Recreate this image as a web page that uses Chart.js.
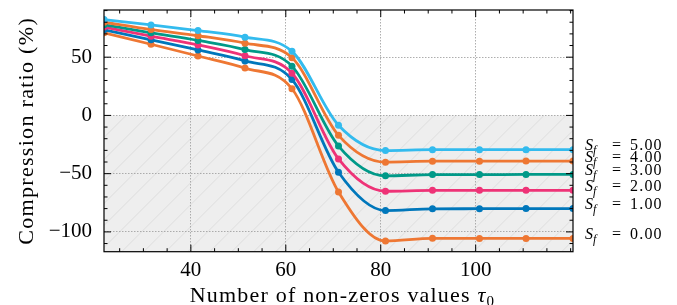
<!DOCTYPE html>
<html>
<head>
<meta charset="utf-8">
<script src="https://cdn.jsdelivr.net/npm/chart.js@4.4.1/dist/chart.umd.min.js"></script>
<style>
    html, body { margin: 0; padding: 0; background: #fff; }
    #wrap { width: 677px; height: 305px; position: relative; }
</style>
</head>
<body>
<div id="wrap"><canvas id="chart"></canvas></div>
<script>
// x positions (number of non-zeros tau0)
const tau0 = [21.7, 31.6, 41.5, 51.4, 61.3, 71.1, 81.0, 90.9, 100.8, 110.6, 120.5];

// compression ratio (%) for each S_f
const sf0 = [70.9, 61.1, 51.0, 40.6, 22.9, -65.7, -107.8, -105.5, -105.6, -105.6, -105.6];
const sf1 = [73.5, 64.9, 56.2, 46.8, 30.8, -48.8, -81.7, -80.2, -80.1, -80.0, -80.0];
const sf2 = [75.9, 68.0, 60.5, 51.2, 36.3, -37.4, -65.1, -64.3, -64.3, -64.3, -64.3];
const sf3 = [77.8, 70.9, 64.4, 56.5, 42.3, -26.3, -51.9, -50.8, -50.8, -50.7, -50.7];
const sf4 = [80.0, 73.7, 68.4, 62.0, 49.5, -17.1, -40.1, -39.3, -39.3, -39.2, -39.2];
const sf5 = [82.3, 77.7, 72.8, 67.2, 55.0, -8.5, -30.2, -29.4, -29.4, -29.4, -29.4];

const sfSeries = [sf0, sf1, sf2, sf3, sf4, sf5];
const sfLabels = ["0.00", "1.00", "2.00", "3.00", "4.00", "5.00"];
const sfColors = ["#EE7733", "#0077BB", "#EE3377", "#009988", "#EE7733", "#33BBEE"];

const xTicks = [40, 60, 80, 100];
const yTicks = [-100, -50, 0, 50];
const xMinor = [25, 30, 35, 45, 50, 55, 65, 70, 75, 85, 90, 95, 105, 110, 115, 120];
const yMinor = [-110, -90, -80, -70, -60, -40, -30, -20, -10, 10, 20, 30, 40, 60, 70, 80, 90];

const FONT = '"Liberation Serif", "Times New Roman", serif';
Chart.defaults.font.family = FONT;
Chart.defaults.color = "#000";

// gray hatched region below zero
const shadePlugin = {
    id: "shade",
    beforeDraw(chart) {
        const { ctx, chartArea: a, scales: { y } } = chart;
        ctx.save();
        ctx.fillStyle = "#fff";
        ctx.fillRect(0, 0, chart.width, chart.height);
        const y0 = y.getPixelForValue(0);
        ctx.fillStyle = "#eeeeee";
        ctx.fillRect(a.left, y0, a.right - a.left, a.bottom - y0);
        ctx.beginPath();
        ctx.rect(a.left, y0, a.right - a.left, a.bottom - y0);
        ctx.clip();
        ctx.strokeStyle = "#d9d9d9";
        ctx.lineWidth = 0.8;
        const h = a.bottom - y0;
        for (let x = a.left - h; x < a.right; x += 22) {
            ctx.beginPath();
            ctx.moveTo(x, a.bottom);
            ctx.lineTo(x + h, y0);
            ctx.stroke();
        }
        ctx.restore();
    }
};

// frame, inward ticks, titles and S_f labels
const framePlugin = {
    id: "frame",
    afterDraw(chart) {
        const { ctx, chartArea: a, scales: { x, y } } = chart;
        ctx.save();
        ctx.strokeStyle = "#000";
        ctx.lineWidth = 1;
        const tick = (x1, y1, x2, y2) => {
            ctx.beginPath();
            ctx.moveTo(x1, y1);
            ctx.lineTo(x2, y2);
            ctx.stroke();
        };
        xTicks.forEach(v => {
            const px = x.getPixelForValue(v);
            tick(px, a.bottom, px, a.bottom - 7);
            tick(px, a.top, px, a.top + 7);
        });
        xMinor.forEach(v => {
            const px = x.getPixelForValue(v);
            tick(px, a.bottom, px, a.bottom - 3.5);
            tick(px, a.top, px, a.top + 3.5);
        });
        yTicks.forEach(v => {
            const py = y.getPixelForValue(v);
            tick(a.left, py, a.left + 7, py);
            tick(a.right, py, a.right - 7, py);
        });
        yMinor.forEach(v => {
            const py = y.getPixelForValue(v);
            tick(a.left, py, a.left + 3.5, py);
            tick(a.right, py, a.right - 3.5, py);
        });
        ctx.lineWidth = 1.2;
        ctx.strokeRect(a.left, a.top, a.right - a.left, a.bottom - a.top);

        ctx.fillStyle = "#000";

        // x title with tau_0
        ctx.textBaseline = "alphabetic";
        ctx.textAlign = "left";
        ctx.letterSpacing = "1.2px";
        ctx.font = "22px " + FONT;
        const main = "Number of non-zeros values ";
        const w1 = ctx.measureText(main).width;
        ctx.font = "italic 22px " + FONT;
        const w2 = ctx.measureText("\u03C4").width;
        ctx.font = "15px " + FONT;
        const w3 = ctx.measureText("0").width;
        let sx = (a.left + a.right) / 2 + 4 - (w1 + w2 + w3) / 2;
        const by = 302;
        ctx.font = "22px " + FONT;
        ctx.fillText(main, sx, by);
        ctx.font = "italic 22px " + FONT;
        ctx.fillText("\u03C4", sx + w1, by);
        ctx.font = "15px " + FONT;
        ctx.fillText("0", sx + w1 + w2, by + 4);

        // y title
        ctx.save();
        ctx.translate(33, (a.top + a.bottom) / 2);
        ctx.rotate(-Math.PI / 2);
        ctx.textAlign = "center";
        ctx.font = "22px " + FONT;
        ctx.letterSpacing = "1.3px";
        ctx.fillText("Compression ratio (%)", 0, 0);
        ctx.restore();

        // S_f labels at right
        ctx.textAlign = "left";
        ctx.textBaseline = "middle";
        sfSeries.forEach((s, i) => {
            const py = y.getPixelForValue(s[s.length - 1]) - 3.7;
            ctx.letterSpacing = "0px";
            ctx.font = "italic 16px " + FONT;
            ctx.fillText("S", 585, py);
            ctx.font = "italic 12px " + FONT;
            ctx.fillText("f", 593, py + 5);
            ctx.font = "16px " + FONT;
            ctx.fillText("=", 612, py);
            ctx.letterSpacing = "1.2px";
            ctx.fillText(sfLabels[i], 630, py);
        });
        ctx.letterSpacing = "0px";
        ctx.restore();
    }
};

const datasets = sfSeries.map((s, i) => ({
    label: "S_f = " + sfLabels[i],
    data: s.map((v, k) => ({ x: tau0[k], y: v })),
    borderColor: sfColors[i],
    backgroundColor: sfColors[i],
    borderWidth: 2.8,
    cubicInterpolationMode: "monotone",
    pointRadius: 3.5,
    pointBorderWidth: 0,
    pointBackgroundColor: sfColors[i],
    clip: 0,
    order: 6 - i
}));

new Chart(document.getElementById("chart"), {
    type: "line",
    data: { datasets: datasets },
    options: {
        responsive: true,
        maintainAspectRatio: false,
        animation: false,
        events: [],
        layout: {
            padding: { top: 10, right: 104, left: 0, bottom: 0 }
        },
        plugins: {
            legend: { display: false },
            tooltip: { enabled: false }
        },
        scales: {
            x: {
                type: "linear",
                min: 21.7,
                max: 120.5,
                afterBuildTicks: scale => {
                    scale.ticks = xTicks.map(v => ({ value: v }));
                },
                afterFit: scale => {
                    scale.height = 53.3;
                    scale.paddingLeft = 0;
                    scale.paddingRight = 0;
                },
                grid: {
                    color: "#999",
                    lineWidth: 0.8,
                    drawTicks: false
                },
                border: { display: false, dash: [1.5, 1.5] },
                ticks: {
                    padding: 6,
                    maxRotation: 0,
                    font: { size: 21 }
                }
            },
            y: {
                min: -117,
                max: 90.5,
                afterBuildTicks: scale => {
                    scale.ticks = yTicks.map(v => ({ value: v }));
                },
                afterFit: scale => {
                    scale.width = 104;
                    scale.paddingTop = 0;
                    scale.paddingBottom = 0;
                },
                grid: {
                    color: "#999",
                    lineWidth: 0.8,
                    drawTicks: false
                },
                border: { display: false, dash: [1.5, 1.5] },
                ticks: {
                    padding: 12,
                    font: { size: 21 },
                    callback: value => String(value).replace("-", "\u2212")
                }
            }
        }
    },
    plugins: [shadePlugin, framePlugin]
});
</script>
</body>
</html>
